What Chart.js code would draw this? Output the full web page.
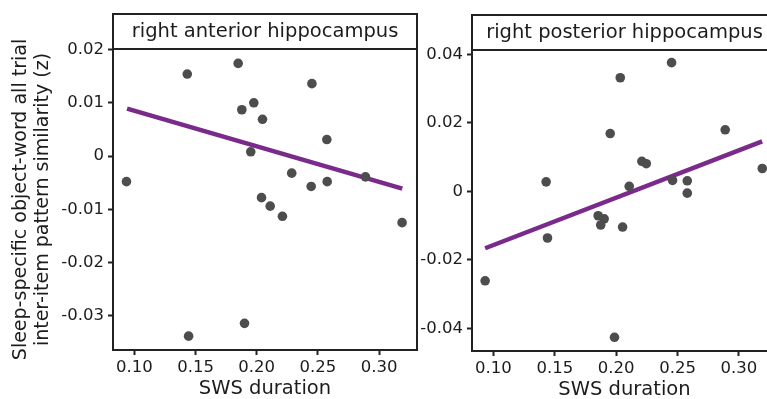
<!DOCTYPE html>
<html>
<head>
<meta charset="utf-8">
<script src="https://cdn.jsdelivr.net/npm/chart.js@4.4.1/dist/chart.umd.min.js"></script>
<style>
  html, body { margin: 0; padding: 0; background: #ffffff; width: 767px; height: 399px; overflow: hidden; }
  canvas { position: absolute; }
  #leftChart { left: 0px; top: 0px; }
  #rightChart { left: 415px; top: 1px; }
</style>
</head>
<body>
<canvas id="leftChart" width="430" height="399"></canvas>
<canvas id="rightChart" width="375" height="399"></canvas>
<script>
// ---- data ----
const panelTitles = ['right anterior hippocampus', 'right posterior hippocampus'];
const xAxisTitle = 'SWS duration';
const yAxisTitle = ['Sleep-specific object-word all trial', 'inter-item pattern similarity (z)'];

const xTicks = [0.10, 0.15, 0.20, 0.25, 0.30];
const xTickLabels = ['0.10', '0.15', '0.20', '0.25', '0.30'];

const leftYTicks = [0.02, 0.01, 0, -0.01, -0.02, -0.03];
const leftYTickLabels = ['0.02', '0.01', '0', '-0.01', '-0.02', '-0.03'];
const rightYTicks = [0.04, 0.02, 0, -0.02, -0.04];
const rightYTickLabels = ['0.04', '0.02', '0', '-0.02', '-0.04'];

const leftX = [0.0935, 0.1432, 0.1848, 0.1878, 0.1976, 0.2047, 0.1951, 0.2451, 0.2573, 0.2286,
               0.2445, 0.2576, 0.2889, 0.2039, 0.2110, 0.2210, 0.3188, 0.1443, 0.1900];
const leftY = [-0.0048, 0.0154, 0.0174, 0.0087, 0.0100, 0.0069, 0.0008, 0.0136, 0.0031, -0.0032,
               -0.0057, -0.0048, -0.0039, -0.0078, -0.0094, -0.0113, -0.0125, -0.0338, -0.0314];

const rightX = [0.1429, 0.2033, 0.2451, 0.1951, 0.2888, 0.2209, 0.2245, 0.3190, 0.2106, 0.2459,
                0.2579, 0.2579, 0.1853, 0.1902, 0.1874, 0.2052, 0.1440, 0.0932, 0.1986];
const rightY = [0.0028, 0.0332, 0.0376, 0.0169, 0.0180, 0.0088, 0.0081, 0.0067, 0.0015, 0.0032,
                0.0031, -0.0005, -0.0071, -0.0080, -0.0098, -0.0104, -0.0136, -0.0261, -0.0426];

const leftFitX = [0.094, 0.319];
const leftFitY = [0.0089, -0.0061];
const rightFitX = [0.0932, 0.3189];
const rightFitY = [-0.0166, 0.0146];

// ---- styling ----
const FONT = 'DejaVu Sans';
const INK = '#1c1c1c';
const POINT = '#4d4d4d';
const FIT = '#7a2a8a';
const STRIP_H = 35;

const panelBox = {
  id: 'panelBox',
  afterDraw(chart) {
    const { ctx, chartArea: a } = chart;
    ctx.save();
    ctx.strokeStyle = '#222222';
    ctx.lineWidth = 2;
    ctx.strokeRect(a.left, a.top, a.right - a.left, a.bottom - a.top);
    ctx.strokeRect(a.left, a.top - STRIP_H, a.right - a.left, STRIP_H);
    ctx.restore();
  }
};

function makeChart(id, xs, ys, fx, fy, yTicks, yLabels, yMin, yMax, title, yWidth, showYTitle) {
  const pts = xs.map((x, i) => ({ x: x, y: ys[i] }));
  const fit = fx.map((x, i) => ({ x: x, y: fy[i] }));
  return new Chart(document.getElementById(id), {
    type: 'scatter',
    data: {
      datasets: [
        { type: 'scatter', data: pts, backgroundColor: POINT, borderColor: POINT, borderWidth: 0,
          pointRadius: 4.8, pointHoverRadius: 4.8 },
        { type: 'line', data: fit, borderColor: FIT, borderWidth: 4.5, pointRadius: 0,
          fill: false, tension: 0, borderCapStyle: 'butt' }
      ]
    },
    options: {
      responsive: false,
      devicePixelRatio: 1,
      animation: false,
      events: [],
      layout: { padding: { top: 14, right: 13, left: 0, bottom: 0 } },
      plugins: {
        legend: { display: false },
        tooltip: { enabled: false },
        title: {
          display: true, text: title, fullSize: false, color: INK,
          font: { family: FONT, size: 19.5, weight: 'normal', lineHeight: 1.2 },
          padding: { top: 6, bottom: 5.6 }
        }
      },
      scales: {
        x: {
          type: 'linear', min: 0.0825, max: 0.331,
          afterFit: (s) => { s.height = 49; },
          afterBuildTicks: (s) => { s.ticks = xTicks.map(v => ({ value: v })); },
          grid: { display: true, drawOnChartArea: false, drawTicks: true, tickLength: 5, tickColor: '#222', tickWidth: 2 },
          border: { display: true, color: '#222', width: 2 },
          ticks: { color: INK, padding: 3, maxRotation: 0, autoSkip: false,
                   font: { family: FONT, size: 16.5 },
                   callback: (v, i) => xTickLabels[i] },
          title: { display: true, text: xAxisTitle, color: INK,
                   font: { family: FONT, size: 19.5, lineHeight: 1.0 }, padding: { top: 0, bottom: 0 } }
        },
        y: {
          type: 'linear', min: yMin, max: yMax,
          afterFit: (s) => { s.width = yWidth; },
          afterBuildTicks: (s) => { s.ticks = yTicks.map(v => ({ value: v })); },
          grid: { display: true, drawOnChartArea: false, drawTicks: true, tickLength: 5, tickColor: '#222', tickWidth: 2 },
          border: { display: true, color: '#222', width: 2 },
          ticks: { color: INK, padding: 4, autoSkip: false,
                   font: { family: FONT, size: 16.5 },
                   callback: (v, i) => yLabels[i] },
          title: { display: showYTitle, text: yAxisTitle, color: INK,
                   font: { family: FONT, size: 19, lineHeight: 1.16 }, padding: { top: 10, bottom: 0 } }
        }
      }
    },
    plugins: [panelBox]
  });
}

makeChart('leftChart', leftX, leftY, leftFitX, leftFitY, leftYTicks, leftYTickLabels,
          -0.0364, 0.0201, panelTitles[0], 113, true);
makeChart('rightChart', rightX, rightY, rightFitX, rightFitY, rightYTicks, rightYTickLabels,
          -0.0466, 0.0413, panelTitles[1], 57, false);
</script>
</body>
</html>
